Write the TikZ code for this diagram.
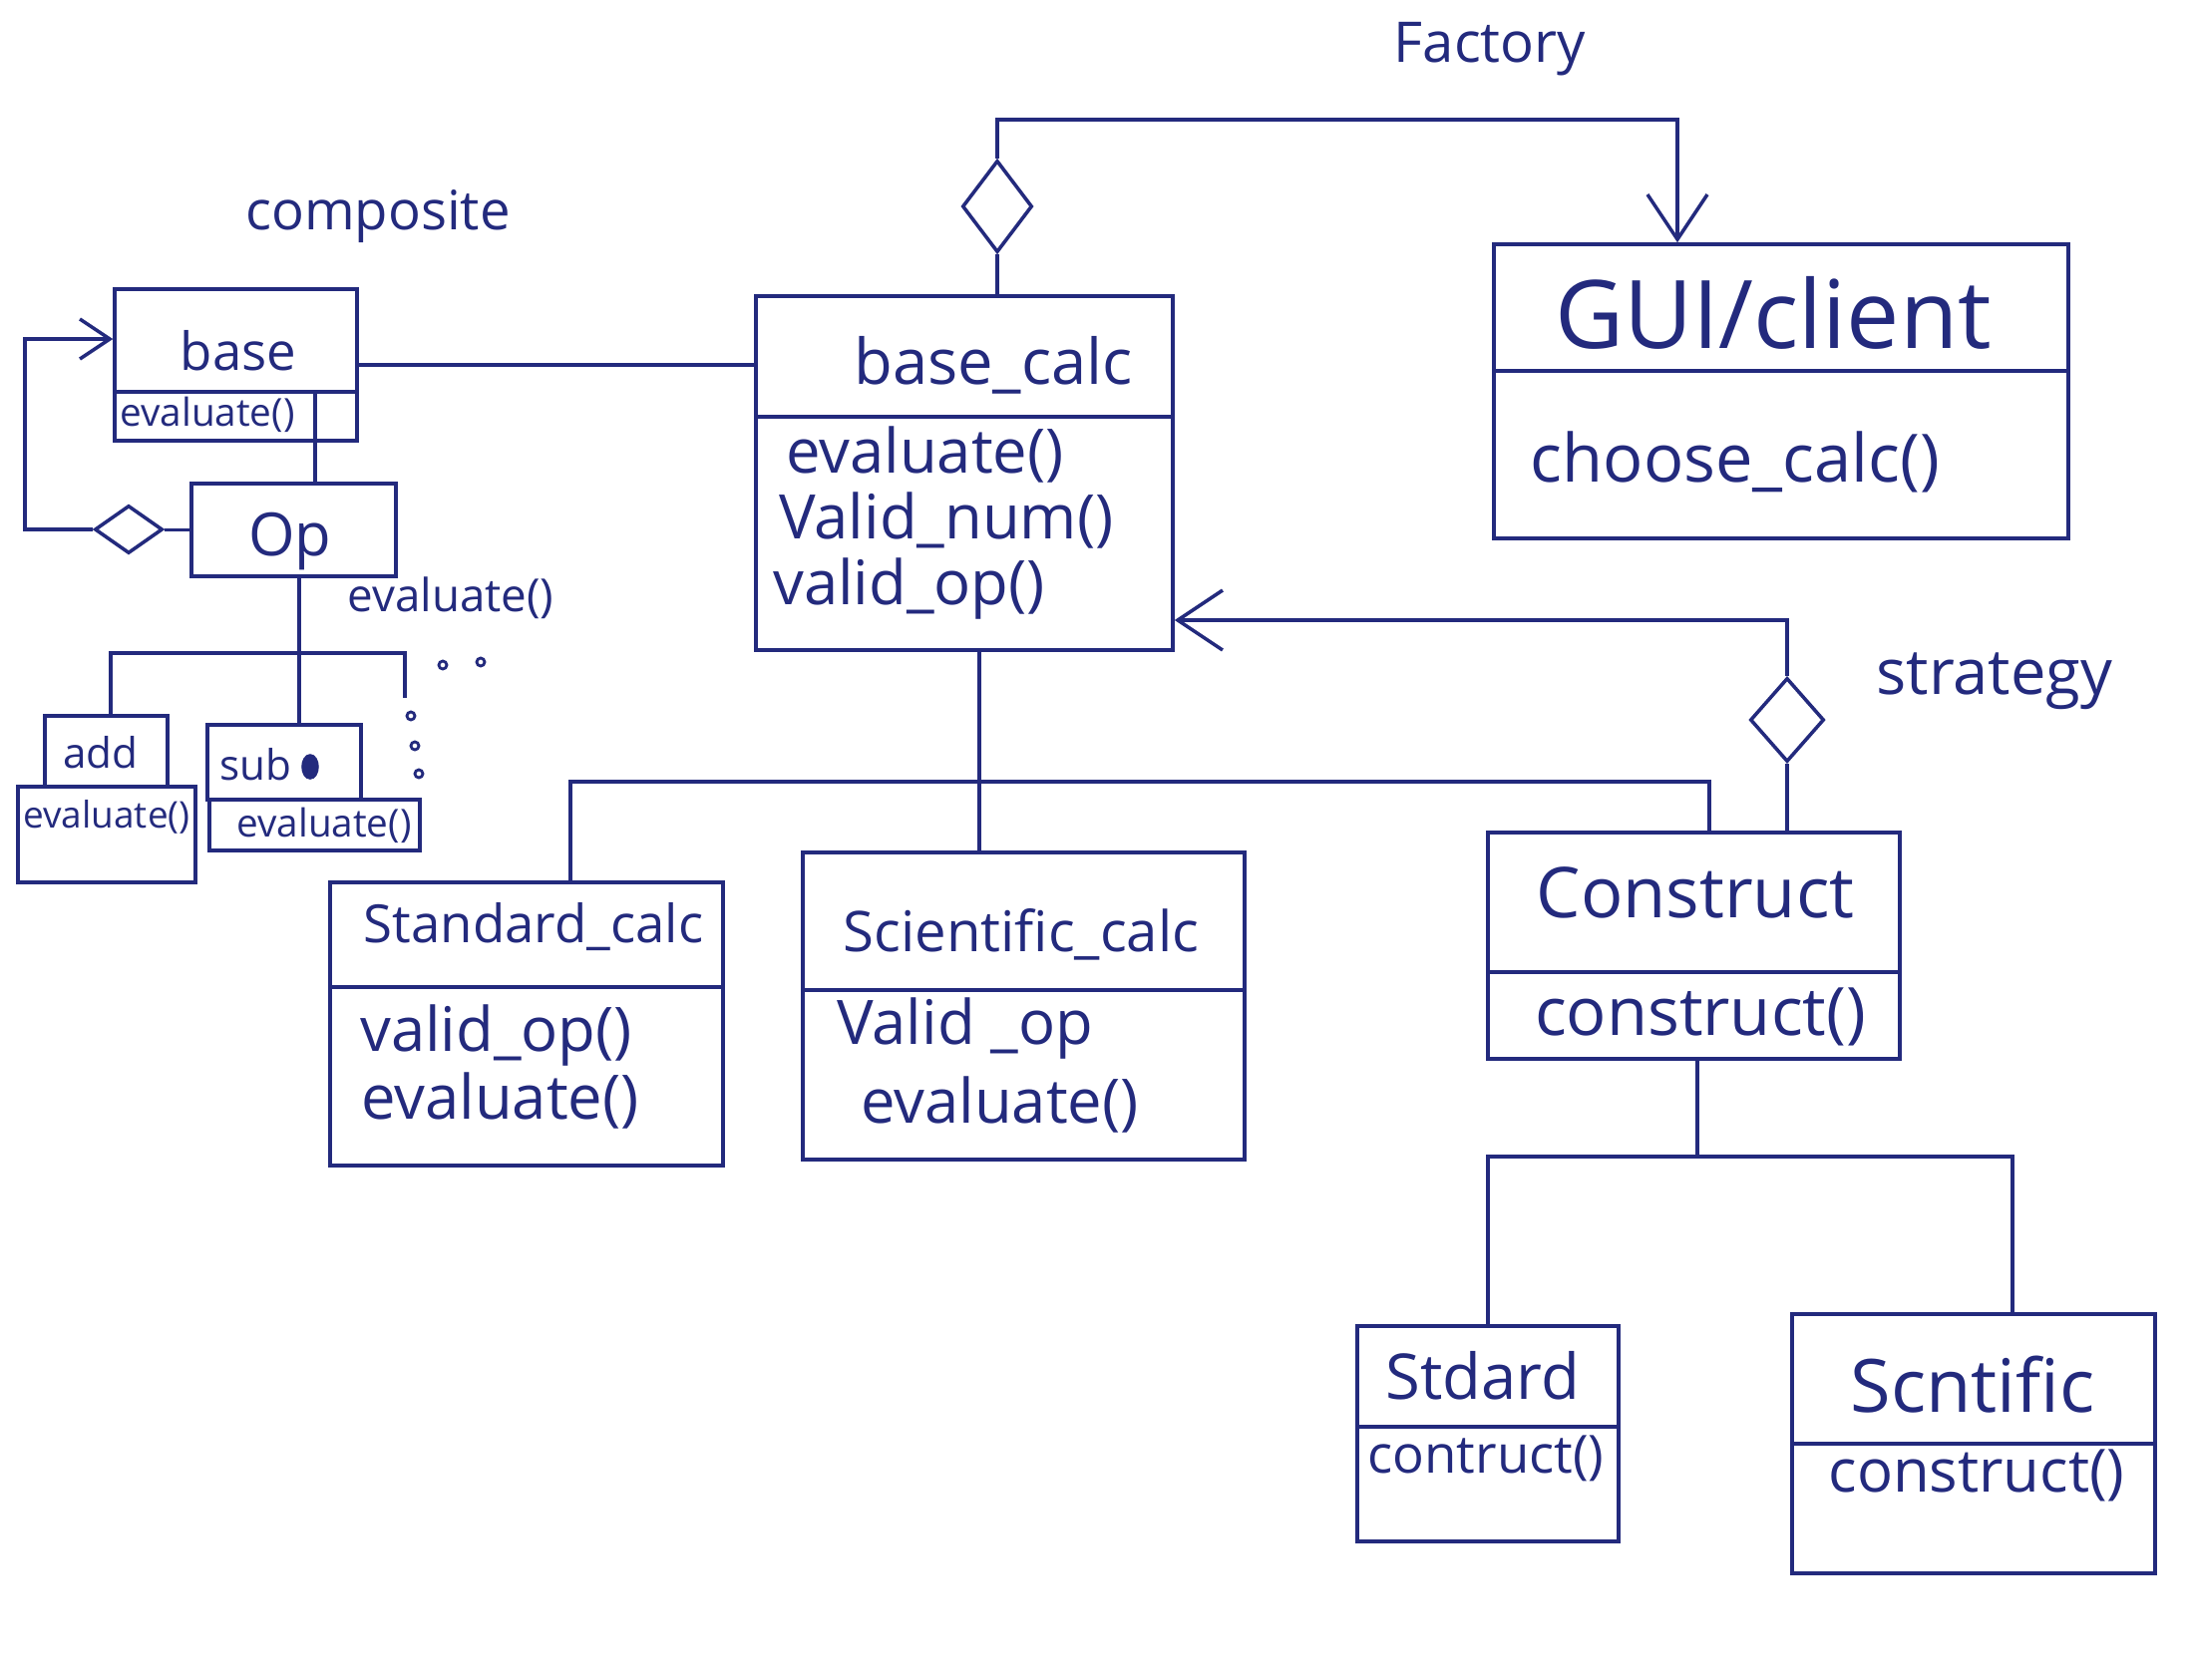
\documentclass[tikz,border=0pt]{standalone}
\usepackage{fontspec}
\setmainfont{Open Sans}
\usetikzlibrary{arrows.meta,shapes.geometric,fit}
\definecolor{ink}{RGB}{35,42,125}
\begin{document}
\begin{tikzpicture}[x=0.01cm,y=-0.01cm,color=ink,line width=1pt,
  box/.style={draw, rectangle, inner sep=0pt},
  dia/.style={draw, diamond, inner sep=0pt, fill=white},
  odot/.style={draw, circle, inner sep=0pt, minimum size=0.08cm, line width=0.8pt},
  arrL/.style={-{Straight Barb[length=4.5mm,width=6mm]}},
  arrS/.style={-{Straight Barb[length=3mm,width=4mm]}},
  fs/.style={font=\fontsize{#1}{#1}\selectfont, inner sep=1pt}]
\useasboundingbox (0,0) rectangle (2200,1684);

% ---------- labels of patterns
\node[fs=16] (tfactory) at (1494,49) {Factory};
\node[fs=15.5] (tcomposite) at (379,217) {composite};
\node[fs=18] (tstrategy) at (2000,683) {strategy};

% ---------- boxes
\node[box, fit={(115,290) (358,442)}] (base) {};
\draw (115,393) -- (358,393);
\node[fs=15] (tbase) at (239,352) {base};
\node[fs=11] (tbaseev) at (208,416) {evaluate()};

\node[box, fit={(192,485) (397,578)}] (op) {};
\node[fs=17] (top) at (291,543) {Op};
\node[fs=13] (topev) at (452,600) {evaluate()};

\node[box, fit={(45,718) (168,789)}] (addT) {};
\node[box, fit={(18,789) (196,885)}] (addB) {};
\node[fs=12] (tadd) at (101,755) {add};
\node[fs=10.5] (taddev) at (107,819) {evaluate()};

\node[box, fit={(208,727) (362,802)}] (subT) {};
\node[box, fit={(210,802) (421,853)}] (subB) {};
\node[fs=12] (tsub) at (256,767) {sub};
\draw[fill=ink] (311,769) ellipse (7 and 11);
\node[fs=11] (tsubev) at (325,828) {evaluate()};

\node[box, fit={(758,297) (1176,652)}] (bc) {};
\draw (758,418) -- (1176,418);
\node[fs=18] (tbc) at (996,366) {base\_calc};
\node[fs=17.5, anchor=west] (tbc1) at (783,456) {evaluate()};
\node[fs=17.5, anchor=west] (tbc2) at (776,522) {Valid\_num()};
\node[fs=17.5, anchor=west] (tbc3) at (770,590) {valid\_op()};

\node[box, fit={(1498,245) (2074,540)}] (gui) {};
\draw (1498,372) -- (2074,372);
\node[fs=27] (tgui) at (1778,314) {GUI/client};
\node[fs=19] (tgui1) at (1740,463) {choose\_calc()};

\node[box, fit={(331,885) (725,1169)}] (std) {};
\draw (331,990) -- (725,990);
\node[fs=15] (tstd) at (535,929) {Standard\_calc};
\node[fs=17.5, anchor=west] (tstd1) at (356,1038) {valid\_op()};
\node[fs=17.5, anchor=west] (tstd2) at (357,1104) {evaluate()};

\node[box, fit={(805,855) (1248,1163)}] (sci) {};
\draw (805,993) -- (1248,993);
\node[fs=16] (tsci) at (1024,937) {Scientific\_calc};
\node[fs=17.5, anchor=west] (tsci1) at (834,1031) {Valid \_op};
\node[fs=17.5, anchor=west] (tsci2) at (858,1108) {evaluate()};

\node[box, fit={(1492,835) (1905,1062)}] (con) {};
\draw (1492,975) -- (1905,975);
\node[fs=20] (tcon) at (1700,895) {Construct};
\node[fs=19] (tcon1) at (1705,1020) {construct()};

\node[box, fit={(1361,1330) (1623,1546)}] (std2) {};
\draw (1361,1431) -- (1623,1431);
\node[fs=18] (tstd2t) at (1487,1380) {Stdard};
\node[fs=15] (tstd2m) at (1490,1463) {contruct()};

\node[box, fit={(1797,1318) (2161,1578)}] (sci2) {};
\draw (1797,1448) -- (2161,1448);
\node[fs=21] (tsci2t) at (1978,1389) {Scntific};
\node[fs=17] (tsci2m) at (1982,1480) {construct()};

% ---------- Factory connector
\node[dia, minimum width=0.7cm, minimum height=0.92cm] (fd) at (1000,207) {};
\coordinate (fc) at (1682,120);
\draw (bc.north -| fd) -- (fd.south);
\draw[arrL] (fd.north) |- (fc) -- (gui.north -| fc);

% ---------- base -- base_calc
\draw (base.east) -- (base.east -| bc.west);

% ---------- Composite
\coordinate (bo) at (316,393);
\draw (bo) -- (op.north -| bo);
\node[dia, minimum width=0.68cm, minimum height=0.48cm] (cd) at (129,531) {};
\coordinate (lc) at (25,340);
\draw (op.west) -- (op.west -| cd.east);
\draw[arrS] (cd.west) -| (lc) -- (base.west |- lc);

\coordinate (j) at (300,655);
\coordinate (aL) at (111,0);
\coordinate (jr) at (406,700);
\draw (op.south -| j) -- (j);
\draw (addT.north -| aL) |- (j) -- (subT.north -| j);
\draw (j) -| (jr);
\node[odot] (d1) at (444,667) {};
\node[odot] (d2) at (482,664) {};
\node[odot] (d3) at (412,718) {};
\node[odot] (d4) at (416,748) {};
\node[odot] (d5) at (420,776) {};

% ---------- base_calc hierarchy
\coordinate (bj) at (982,784);
\coordinate (sx) at (572,0);
\coordinate (cx) at (1714,0);
\draw (bc.south -| bj) -- (sci.north -| bj);
\draw (std.north -| sx) |- (bj) -| (con.north -| cx);

% ---------- Strategy
\node[dia, minimum width=0.74cm, minimum height=0.84cm] (sd) at (1792,722) {};
\coordinate (sy) at (0,622);
\draw (con.north -| sd) -- (sd.south);
\draw[arrL] (sd.north) |- (bc.east |- sy);

% ---------- Construct hierarchy
\coordinate (k) at (1702,1160);
\coordinate (kl) at (1492,0);
\coordinate (kr) at (2018,0);
\draw (con.south -| k) -- (k);
\draw (std2.north -| kl) |- (k) -| (sci2.north -| kr);
\end{tikzpicture}
\end{document}
